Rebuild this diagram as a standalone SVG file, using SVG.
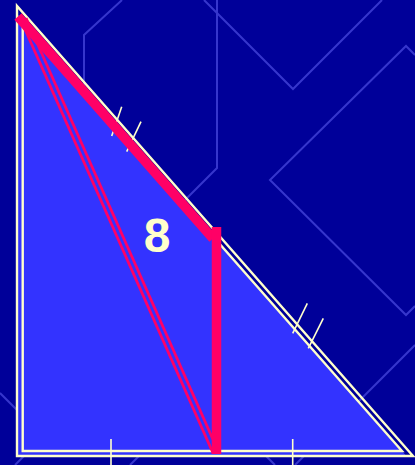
<svg xmlns="http://www.w3.org/2000/svg" width="415" height="465" viewBox="0 0 415 465">
  <style>
    .bg { fill: none; stroke: #3636cc; stroke-width: 2; }
    .cream { fill: none; stroke: #ffffcc; stroke-width: 2.4; stroke-linejoin: miter; }
    .tick { fill: none; stroke: #ffffcc; stroke-width: 1.6; }
    .redthin { fill: none; stroke: #ff0066; stroke-width: 2.8; }
    .redthick { fill: none; stroke: #ff0066; stroke-width: 9.5; stroke-linecap: butt; }
    .label { font-family: "Liberation Sans", Arial, sans-serif; font-weight: bold; font-size: 48px; fill: #ffffcc; text-anchor: middle; }
  </style>
  <rect x="0" y="0" width="415" height="465" fill="#000099"/>
  <g id="background">
    <polyline class="bg" points="122,0 84,35 84,120"/>
    <polyline class="bg" points="204,0 293,89 382,0"/>
    <polyline class="bg" points="217,0 217,168 150,235"/>
    <polyline class="bg" points="415,55 406,46 270,180 406,315 415,306"/>
    <line class="bg" x1="415" y1="345" x2="295" y2="465"/>
    <line class="bg" x1="0" y1="393" x2="40" y2="433"/>
    <line class="bg" x1="15" y1="465" x2="45" y2="435"/>
    <line class="bg" x1="130" y1="465" x2="160" y2="435"/>
    <line class="bg" x1="245" y1="435" x2="275" y2="465"/>
  </g>
  <g id="triangle">
    <polygon points="17,13.6 17,456 406.4,456" fill="#3333ff"/>
    <polygon class="cream" points="17,6 17,456 413,456"/>
    <polygon class="cream" points="22.7,20.1 22.7,451 402,451"/>
  </g>
  <g id="ticks">
    <line class="tick" x1="121.7" y1="106.7" x2="111.7" y2="136"/>
    <line class="tick" x1="141" y1="121.7" x2="126.7" y2="151.7"/>
    <line class="tick" x1="307.3" y1="303.3" x2="292.7" y2="333.3"/>
    <line class="tick" x1="323.3" y1="318.3" x2="308.3" y2="348.3"/>
    <line class="tick" x1="111" y1="439" x2="111" y2="465"/>
    <line class="tick" x1="292.7" y1="439" x2="292.7" y2="465"/>
  </g>
  <g id="connectors">
    <line class="redthin" x1="20" y1="18" x2="213" y2="453"/>
    <line class="redthin" x1="26" y1="18" x2="219" y2="453"/>
    <line class="redthick" x1="18" y1="16.5" x2="213" y2="238.5"/>
    <line class="redthick" x1="216.5" y1="227" x2="216.5" y2="454"/>
  </g>
  <g id="label">
    <text class="label" x="157" y="252">8</text>
  </g>
</svg>
